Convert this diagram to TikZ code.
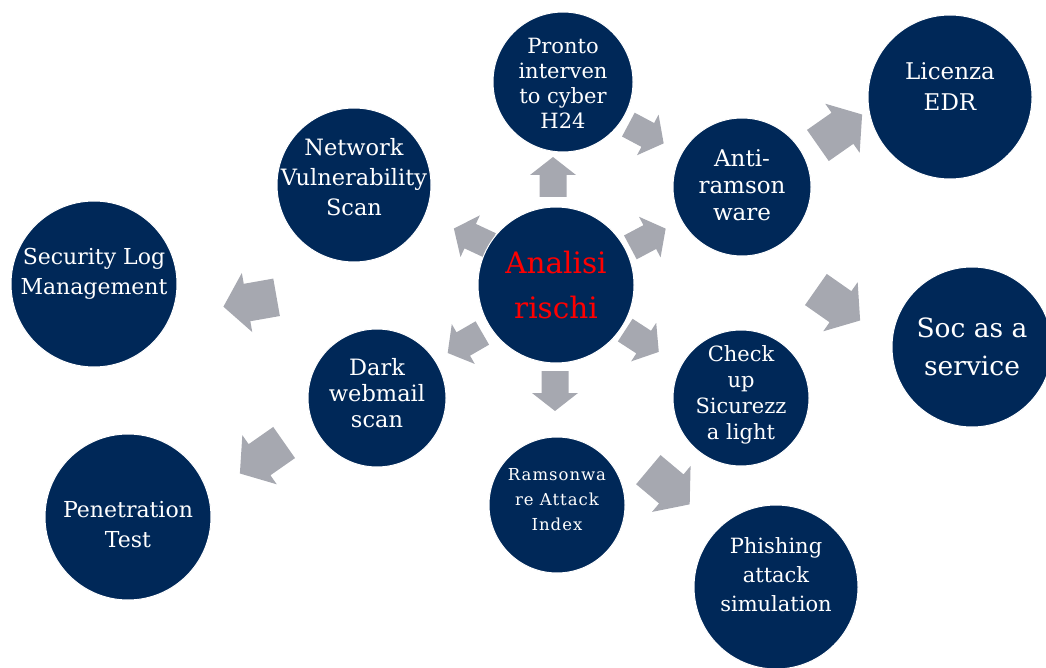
\documentclass[tikz,border=0pt]{standalone}
\usepackage{fontspec}
\setmainfont{DejaVu Serif}
\definecolor{navy}{RGB}{0,40,88}
\definecolor{agray}{RGB}{166,168,176}
\definecolor{redtxt}{RGB}{255,0,0}
\newcommand{\fs}[2]{\fontsize{#1pt}{#2pt}\selectfont}
\tikzset{
  circ/.style={circle, fill=navy, draw=white, line width=1pt, inner sep=0pt, minimum size=#1},
  txt/.style={text=white, align=center, inner sep=0pt},
  smallarr/.pic={\fill[agray] (-20,-13.5) -- (2,-13.5) -- (2,-23) -- (20,0) -- (2,23) -- (2,13.5) -- (-20,13.5) -- cycle;},
  bigarr/.pic={\fill[agray] (-27,-19) -- (3,-19) -- (3,-30) -- (27,0) -- (3,30) -- (3,19) -- (-27,19) -- cycle;},
}
\begin{document}
\begin{tikzpicture}[x=1pt,y=-1pt]
\useasboundingbox (0,0) rectangle (1046,668);
% arrows
\pic[rotate=90] (a1) at (553,177) {smallarr};
\pic[rotate=155] (a2) at (472,237) {smallarr};
\pic[rotate=210] (a3) at (465,343) {smallarr};
\pic[rotate=270] (a4) at (555,391) {smallarr};
\pic[rotate=-33] (a5) at (642,341) {smallarr};
\pic[rotate=28] (a6) at (648,238) {smallarr};
\pic[rotate=-28] (a7) at (646,134) {smallarr};
\pic[rotate=35] (a8) at (840,130) {bigarr};
\pic[rotate=-35] (a9) at (838,305) {bigarr};
\pic[rotate=-40] (a10) at (669,487) {bigarr};
\pic[rotate=190] (a11) at (250,302) {bigarr};
\pic[rotate=215] (a12) at (262,458) {bigarr};
% circles
\node[circ=156pt] (c) at (556,285) {};
\node[circ=140pt] (pr) at (563,82) {};
\node[circ=138pt] (an) at (742,187) {};
\node[circ=164pt] (ed) at (950,97) {};
\node[circ=160pt] (so) at (972,347) {};
\node[circ=136pt] (ch) at (741,398) {};
\node[circ=164pt] (ph) at (776,587) {};
\node[circ=136pt] (ra) at (557,505) {};
\node[circ=138pt] (da) at (377,398) {};
\node[circ=154pt] (ne) at (354,185) {};
\node[circ=166pt] (se) at (94,284) {};
\node[circ=166pt] (pe) at (128,517) {};
% texts
\node[txt, text=redtxt, font=\fs{29.5}{45}] (ct) at (c.center) {Analisi\\rischi};
\node[txt, font=\fs{21}{25}] (prt) at ([yshift=-1pt]pr.center) {Pronto\\interven\\to cyber\\H24};
\node[txt, font=\fs{23}{27}] (ant) at ([yshift=2pt]an.center) {Anti-\\ramson\\ware};
\node[txt, font=\fs{23}{31}] (edt) at ([yshift=10pt]ed.center) {Licenza\\EDR};
\node[txt, font=\fs{26.5}{38}] (sot) at (so.center) {Soc as a\\service};
\node[txt, font=\fs{21}{26}] (cht) at ([yshift=3pt]ch.center) {Check\\up\\Sicurezz\\a light};
\node[txt, font=\fs{21}{29}] (pht) at ([yshift=12pt]ph.center) {Phishing\\attack\\simulation};
\node[txt, font={\fs{16.5}{25}\addfontfeatures{LetterSpace=6}}] (rat) at ([yshift=5pt]ra.center) {Ramsonwa\\re Attack\\Index};
\node[txt, font=\fs{22.5}{26}] (dat) at ([yshift=5pt]da.center) {Dark\\webmail\\scan};
\node[txt, font=\fs{22.5}{30}] (net) at ([yshift=8pt]ne.center) {Network\\Vulnerability\\Scan};
\node[txt, font=\fs{22}{30}] (set) at ([yshift=10pt]se.center) {Security Log\\Management};
\node[txt, font=\fs{22}{30}] (pet) at ([yshift=-8pt]pe.center) {Penetration\\Test};
\end{tikzpicture}
\end{document}
